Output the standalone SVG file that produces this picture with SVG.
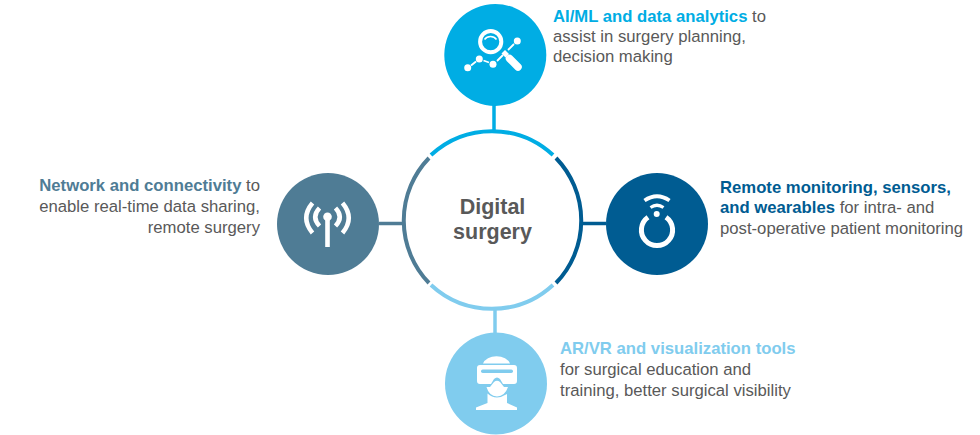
<svg xmlns="http://www.w3.org/2000/svg" width="980" height="435" viewBox="0 0 980 435">
<style>
text{font-family:"Liberation Sans",Arial,sans-serif;font-size:16.7px;fill:#595959}
.b{font-weight:700}
.t{font-weight:700;font-size:21.5px;text-anchor:middle}
.arc{fill:none;stroke-width:4}
.link{fill:none;stroke-width:3.5}
.ic{fill:#fff;stroke:none}
.il{fill:none;stroke:#fff}
.n{font-weight:400;fill:#595959}
.c1{fill:#00ADE4}.c2{fill:#005C92}.c3{fill:#80CCEE}.c4{fill:#4F7C95}
</style>
<g id="connectors">
<path class="arc" stroke="#00ADE4" d="M431 155A90 90 0 0 1 553 155"/>
<path class="arc" stroke="#005C92" d="M556 158A90 90 0 0 1 556 283"/>
<path class="arc" stroke="#80CCEE" d="M431 285A90 90 0 0 0 553 285"/>
<path class="arc" stroke="#4F7C95" d="M429 158A90 90 0 0 0 429 283"/>
<path class="link" stroke="#00ADE4" d="M494 105V131"/>
<path class="link" stroke="#005C92" d="M582 223.500H606"/>
<path class="link" stroke="#80CCEE" d="M495 309V333"/>
<path class="link" stroke="#4F7C95" d="M379 223.500H403"/>
</g>
<g id="center"><text class="t" x="492.500" y="213.500">Digital</text><text class="t" x="492.500" y="239">surgery</text></g>
<g id="node-top">
<circle class="c1" cx="495.300" cy="55" r="51"/>
<circle class="il" cx="490.700" cy="41.700" r="10.600" stroke-width="4"/>
<path class="il" d="M484.500 39.500a7.500 7.500 0 0 1 12 0" stroke-width="1.500"/>
<path class="il" d="M471 65.500L476 61.500M483.500 60.500L489 62.500M497 61L503 55M508 50L514 44" stroke-width="1.800"/>
<circle class="ic" cx="467.700" cy="67.700" r="3.500"/><circle class="ic" cx="479.300" cy="59" r="3.500"/><circle class="ic" cx="493" cy="64.300" r="3.500"/><circle class="ic" cx="517.300" cy="41" r="3.500"/>
<path class="ic" d="M501.500 53.500L505 50L509 54L505.500 57.500Z"/>
<path class="il" d="M509.500 58.500L518 67" stroke-width="7.500" stroke-linecap="round"/>
<text class="b" x="553" y="21.500" style="fill:#00ADE4">AI/ML and data analytics<tspan class="n"> to</tspan></text>
<text x="553" y="41.500">assist in surgery planning,</text>
<text x="553" y="62">decision making</text>
</g>
<g id="node-right">
<circle class="c2" cx="657" cy="224" r="51"/>
<path class="il" d="M644.500 200.500Q657 192 669.500 200.500" stroke-width="3.800"/>
<path class="il" d="M650.500 207.500Q657 203 663.500 207.500" stroke-width="3.200"/>
<circle class="ic" cx="656.700" cy="214" r="3"/>
<path class="il" d="M648 217.200A15.600 15.600 0 1 0 666 217.200" stroke-width="5"/>
<text class="b" x="720" y="193" style="fill:#005C92">Remote monitoring, sensors,</text>
<text class="b" x="720" y="213" style="fill:#005C92">and wearables<tspan class="n"> for intra- and</tspan></text>
<text x="720" y="234">post-operative patient monitoring</text>
</g>
<g id="node-bottom">
<circle class="c3" cx="496" cy="383.500" r="51"/>
<path class="ic" d="M483 363.500A14 10 0 0 1 510 363.500Z"/>
<path class="ic" d="M480 365H514Q517 365 517 368V381Q517 384 514 384H503L500 379Q497 376 494 379L491 384H480Q477 384 477 381V368Q477 365 480 365Z"/>
<rect x="481" y="369.500" width="32" height="3.500" rx="1.700" fill="#80CCEE"/>
<path class="ic" d="M486.500 387H490L494 382Q497 379.500 500 382L504 387H508Q505 396 497 396.500Q489 396 486.500 387Z"/>
<path class="ic" d="M487.500 393.500Q496 401 507 394V403L517 407.500V410H476V407.500L487.500 403Z"/>
<text class="b" x="560" y="354" style="fill:#80CCEE">AR/VR and visualization tools</text>
<text x="560" y="375">for surgical education and</text>
<text x="560" y="396">training, better surgical visibility</text>
</g>
<g id="node-left">
<circle class="c4" cx="328" cy="224" r="51"/>
<path class="il" d="M312.500 203Q300 218 312.500 233" stroke-width="4.500"/>
<path class="il" d="M319.500 208Q311 217 319.500 226" stroke-width="4.500"/>
<path class="il" d="M342.500 203Q355 218 342.500 233" stroke-width="4.500"/>
<path class="il" d="M335.500 208Q344 217 335.500 226" stroke-width="4.500"/>
<circle class="ic" cx="327.500" cy="216.700" r="4.300"/>
<rect class="ic" x="325.200" y="219" width="4.600" height="28"/>
<text x="260" y="191" text-anchor="end"><tspan class="b" style="fill:#4F7C95">Network and connectivity</tspan> to</text>
<text x="260" y="212" text-anchor="end">enable real-time data sharing,</text>
<text x="260" y="233" text-anchor="end">remote surgery</text>
</g>
</svg>
